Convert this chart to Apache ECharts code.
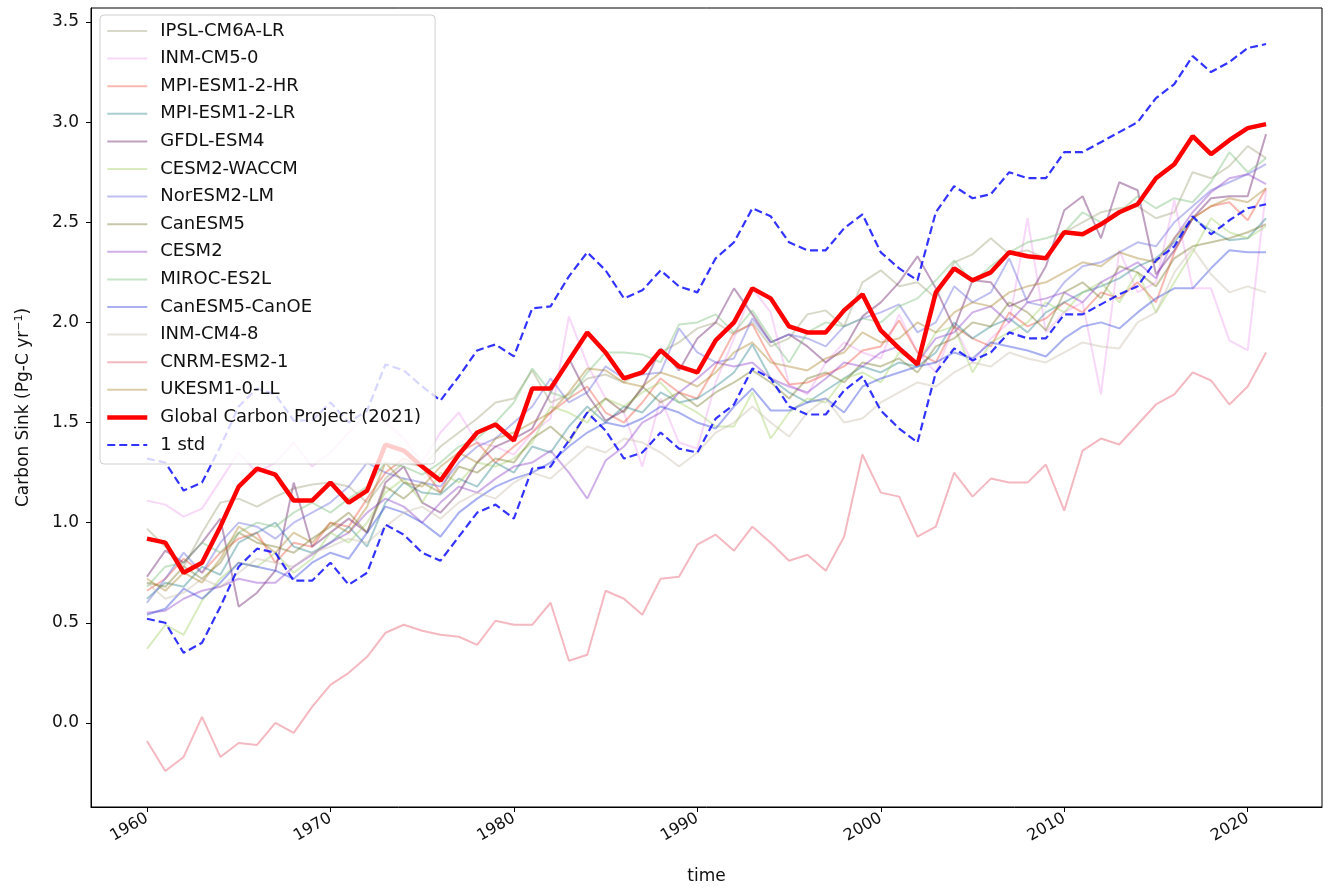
<!DOCTYPE html>
<html>
<head>
<meta charset="utf-8">
<script src="https://cdn.jsdelivr.net/npm/echarts@6/dist/echarts.min.js"></script>
<style>
  html, body { margin: 0; padding: 0; background: #fff; }
  #chart { width: 1335px; height: 890px; }
</style>
</head>
<body>
<div id="chart"></div>
<script>
// years 1960..2021
var years = [];
for (var yr = 1960; yr <= 2021; yr++) years.push(yr);

var xTicks = [1960, 1970, 1980, 1990, 2000, 2010, 2020];
var yTicks = [0, 0.5, 1.0, 1.5, 2.0, 2.5, 3.0, 3.5];

var ipsl = [0.97,0.88,0.78,0.95,1.10,1.12,1.08,1.13,1.17,1.19,
  1.20,1.18,1.10,1.22,1.30,1.28,1.38,1.45,1.52,1.60,
  1.62,1.76,1.60,1.64,1.72,1.74,1.70,1.76,1.85,1.90,
  1.97,2.00,1.94,2.00,1.88,1.92,2.04,2.06,1.98,2.20,
  2.26,2.18,2.20,2.12,2.30,2.34,2.42,2.34,2.36,2.32,
  2.45,2.50,2.55,2.57,2.58,2.52,2.55,2.75,2.72,2.78,
  2.88,2.82];
var inmCm50 = [1.11,1.09,1.03,1.07,1.21,1.35,1.25,1.30,1.40,1.28,
  1.35,1.45,1.55,1.50,1.42,1.30,1.45,1.55,1.40,1.38,
  1.34,1.45,1.52,2.03,1.79,1.62,1.55,1.28,1.62,1.40,
  1.37,1.70,1.92,2.17,2.05,1.69,1.64,1.80,1.90,1.85,
  1.82,2.04,1.85,1.75,1.98,1.80,1.92,2.00,2.52,1.95,
  2.05,2.10,1.64,2.36,2.15,2.20,2.61,2.17,2.17,1.91,
  1.86,2.66];
var mpiHr = [0.66,0.72,0.82,0.75,0.85,0.92,0.95,0.80,0.90,0.88,
  1.00,0.98,1.12,1.25,1.32,1.28,1.15,1.35,1.40,1.30,
  1.38,1.45,1.55,1.62,1.68,1.55,1.50,1.60,1.72,1.65,
  1.62,1.78,1.95,1.99,1.82,1.69,1.70,1.74,1.78,1.86,
  1.88,2.01,1.85,1.80,1.98,1.92,1.88,2.05,1.98,2.02,
  2.10,2.05,2.15,2.12,2.20,2.10,2.35,2.52,2.58,2.60,
  2.51,2.67];
var mpiLr = [0.62,0.70,0.68,0.78,0.74,0.90,0.95,1.00,0.88,0.85,
  0.90,0.98,0.88,1.10,1.20,1.15,1.14,1.22,1.18,1.30,
  1.25,1.38,1.35,1.48,1.58,1.50,1.58,1.55,1.65,1.60,
  1.62,1.68,1.75,1.89,1.72,1.65,1.60,1.66,1.72,1.78,
  1.75,1.80,1.78,1.85,2.00,1.92,1.98,2.02,1.95,2.05,
  2.10,2.15,2.18,2.22,2.28,2.32,2.40,2.52,2.46,2.41,
  2.42,2.52];
var gfdl = [0.73,0.86,0.80,0.90,1.02,0.58,0.65,0.76,1.20,0.88,
  0.95,1.02,0.95,1.20,1.28,1.10,1.05,1.15,1.30,1.38,
  1.42,1.47,1.65,1.82,1.64,1.51,1.56,1.67,1.87,1.76,
  1.92,2.00,2.17,2.04,1.90,1.94,1.88,1.80,1.87,2.03,
  2.10,2.20,2.33,2.17,1.97,2.21,2.20,2.08,2.12,2.28,
  2.56,2.63,2.42,2.70,2.66,2.24,2.36,2.52,2.62,2.63,
  2.63,2.94];
var cesmWaccm = [0.37,0.49,0.44,0.61,0.72,0.80,0.78,0.85,0.75,0.82,
  0.95,0.90,1.00,1.15,1.22,1.10,1.25,1.20,1.30,1.28,
  1.32,1.40,1.58,1.55,1.50,1.62,1.58,1.65,1.70,1.60,
  1.55,1.48,1.48,1.65,1.42,1.55,1.62,1.60,1.72,1.75,
  1.70,1.85,1.80,1.95,1.98,1.75,1.90,1.95,2.00,2.10,
  2.05,2.15,2.20,2.10,2.25,2.05,2.20,2.35,2.52,2.45,
  2.42,2.48];
var norEsm = [0.60,0.72,0.85,0.75,0.90,1.00,0.98,0.92,1.00,1.05,
  1.10,1.18,1.30,1.25,1.22,1.20,1.18,1.30,1.38,1.42,
  1.50,1.58,1.72,1.60,1.65,1.78,1.72,1.74,1.75,1.97,
  1.85,1.80,1.82,2.02,1.90,1.94,1.92,1.88,1.98,2.02,
  2.05,2.09,1.95,2.00,2.18,2.10,2.15,2.32,2.10,2.08,
  2.20,2.28,2.30,2.35,2.40,2.38,2.50,2.58,2.66,2.70,
  2.74,2.79];
var canEsm5 = [0.70,0.68,0.78,0.72,0.80,0.95,0.90,0.88,0.85,0.92,
  0.98,1.05,0.95,1.18,1.12,1.20,1.15,1.28,1.25,1.32,
  1.30,1.42,1.48,1.40,1.55,1.62,1.55,1.68,1.60,1.65,
  1.58,1.65,1.70,1.76,1.70,1.62,1.72,1.75,1.70,1.80,
  1.78,1.82,1.75,1.88,1.92,2.00,1.98,2.10,2.05,1.96,
  2.15,2.20,2.12,2.28,2.25,2.18,2.32,2.38,2.40,2.42,
  2.45,2.49];
var cesm2 = [0.55,0.56,0.62,0.66,0.68,0.72,0.70,0.70,0.78,0.84,
  0.90,0.95,1.05,1.12,1.08,1.00,1.10,1.18,1.15,1.22,
  1.28,1.30,1.36,1.25,1.12,1.31,1.38,1.50,1.55,1.65,
  1.72,1.80,1.78,1.80,1.72,1.68,1.65,1.72,1.80,1.78,
  1.85,1.88,1.80,1.92,1.95,2.05,2.08,2.00,2.10,2.12,
  2.15,2.10,2.20,2.25,2.30,2.22,2.42,2.55,2.65,2.72,
  2.74,2.69];
var miroc = [0.68,0.78,0.80,0.90,0.85,0.95,1.00,0.98,1.05,1.10,
  1.05,1.12,1.18,1.30,1.28,1.24,1.30,1.38,1.42,1.50,
  1.60,1.77,1.65,1.62,1.75,1.85,1.85,1.84,1.80,1.99,
  2.00,2.04,1.95,2.06,1.92,1.80,1.95,2.00,1.98,2.02,
  2.00,2.08,2.12,2.21,2.31,2.20,2.28,2.35,2.40,2.42,
  2.45,2.55,2.50,2.55,2.63,2.57,2.62,2.60,2.70,2.85,
  2.75,2.82];
var canOe = [0.54,0.57,0.67,0.62,0.70,0.80,0.78,0.76,0.72,0.80,
  0.85,0.82,0.95,1.08,1.05,1.00,0.93,1.05,1.12,1.18,
  1.22,1.25,1.30,1.38,1.45,1.50,1.48,1.52,1.58,1.55,
  1.50,1.47,1.58,1.67,1.56,1.56,1.60,1.62,1.55,1.68,
  1.72,1.75,1.78,1.80,1.85,1.82,1.90,1.88,1.86,1.83,
  1.92,1.98,2.00,1.97,2.05,2.12,2.17,2.17,2.27,2.36,
  2.35,2.35];
var inmCm48 = [0.70,0.62,0.65,0.72,0.68,0.75,0.82,0.80,0.78,0.85,
  0.88,0.92,0.90,0.98,1.05,1.08,1.02,1.10,1.15,1.12,
  1.20,1.25,1.22,1.30,1.38,1.35,1.42,1.40,1.35,1.28,
  1.35,1.45,1.50,1.58,1.50,1.43,1.55,1.62,1.50,1.52,
  1.60,1.65,1.70,1.68,1.75,1.80,1.78,1.85,1.82,1.80,
  1.85,1.90,1.88,1.87,2.00,2.05,2.25,2.37,2.24,2.15,
  2.18,2.15];
var cnrm = [-0.09,-0.24,-0.17,0.03,-0.17,-0.10,-0.11,0.00,-0.05,0.08,
  0.19,0.25,0.33,0.45,0.49,0.46,0.44,0.43,0.39,0.51,
  0.49,0.49,0.60,0.31,0.34,0.66,0.62,0.54,0.72,0.73,
  0.89,0.94,0.86,0.98,0.90,0.81,0.84,0.76,0.93,1.34,
  1.15,1.13,0.93,0.98,1.25,1.13,1.22,1.20,1.20,1.29,
  1.06,1.36,1.42,1.39,1.49,1.59,1.64,1.75,1.71,1.59,
  1.68,1.85];
var ukesm = [0.72,0.66,0.75,0.70,0.82,0.98,0.92,0.85,0.95,0.90,
  1.00,0.95,1.08,1.30,1.20,1.18,1.28,1.35,1.30,1.42,
  1.45,1.50,1.55,1.65,1.77,1.76,1.70,1.68,1.75,1.72,
  1.68,1.75,1.85,1.90,1.80,1.78,1.76,1.82,1.85,1.95,
  1.90,1.92,2.00,1.95,2.05,2.10,2.08,2.15,2.18,2.20,
  2.25,2.30,2.28,2.35,2.32,2.30,2.42,2.52,2.58,2.62,
  2.60,2.67];

var gcp = [0.92,0.90,0.75,0.80,0.98,1.18,1.27,1.24,1.11,1.11,
  1.20,1.10,1.16,1.39,1.36,1.28,1.21,1.34,1.45,1.49,
  1.41,1.67,1.67,1.81,1.95,1.85,1.72,1.75,1.86,1.78,
  1.75,1.91,2.00,2.17,2.12,1.98,1.95,1.95,2.06,2.14,
  1.96,1.87,1.79,2.15,2.27,2.21,2.25,2.35,2.33,2.32,
  2.45,2.44,2.49,2.55,2.59,2.72,2.79,2.93,2.84,2.91,
  2.97,2.99];
var stdUpper = [1.32,1.30,1.16,1.20,1.38,1.58,1.67,1.64,1.51,1.51,
  1.60,1.50,1.56,1.79,1.76,1.68,1.61,1.73,1.86,1.89,
  1.83,2.07,2.08,2.23,2.35,2.26,2.12,2.16,2.26,2.18,
  2.15,2.32,2.40,2.57,2.53,2.40,2.36,2.36,2.47,2.54,
  2.35,2.27,2.21,2.55,2.68,2.62,2.64,2.75,2.72,2.72,
  2.85,2.85,2.90,2.95,3.00,3.12,3.19,3.33,3.25,3.30,
  3.37,3.39];
var stdLower = [0.52,0.50,0.35,0.40,0.58,0.78,0.87,0.85,0.71,0.71,
  0.80,0.69,0.75,0.99,0.94,0.85,0.81,0.93,1.05,1.09,
  1.02,1.27,1.28,1.41,1.55,1.46,1.32,1.35,1.45,1.37,
  1.35,1.52,1.59,1.77,1.72,1.58,1.54,1.54,1.66,1.73,
  1.56,1.47,1.40,1.75,1.87,1.81,1.85,1.95,1.92,1.92,
  2.04,2.04,2.09,2.14,2.18,2.31,2.38,2.53,2.44,2.51,
  2.57,2.59];

var models = [
  ['IPSL-CM6A-LR', ipsl, '#9d9d75'],
  ['INM-CM5-0', inmCm50, '#ed9ded'],
  ['MPI-ESM1-2-HR', mpiHr, '#ed4d39'],
  ['MPI-ESM1-2-LR', mpiLr, '#257f89'],
  ['GFDL-ESM4', gfdl, '#611161'],
  ['CESM2-WACCM', cesmWaccm, '#9dcf61'],
  ['NorESM2-LM', norEsm, '#6161d9'],
  ['CanESM5', canEsm5, '#757525'],
  ['CESM2', cesm2, '#8939c5'],
  ['MIROC-ES2L', miroc, '#75bb75'],
  ['CanESM5-CanOE', canOe, '#2539d9'],
  ['INM-CM4-8', inmCm48, '#c5bba7'],
  ['CNRM-ESM2-1', cnrm, '#e34d61'],
  ['UKESM1-0-LL', ukesm, '#a77f25']
];

function pairs(vals) {
  return vals.map(function (v, i) { return [years[i], v]; });
}

var series = models.map(function (m) {
  return {
    name: m[0], type: 'line', data: pairs(m[1]), symbol: 'none',
    lineStyle: { color: m[2], width: 2, opacity: 0.4 },
    itemStyle: { color: m[2] },
    z: 2
  };
});
series.push({
  name: 'Global Carbon Project (2021)', type: 'line', data: pairs(gcp), symbol: 'none',
  lineStyle: { color: '#ff0000', width: 4.5 }, itemStyle: { color: '#ff0000' }, z: 3
});
series.push({
  name: '1 std', type: 'line', data: pairs(stdUpper), symbol: 'none',
  lineStyle: { color: 'rgba(0,0,255,0.8)', width: 2.2, type: [8, 4] },
  itemStyle: { color: 'rgba(0,0,255,0.8)' }, z: 3
});
series.push({
  name: '1 std', type: 'line', data: pairs(stdLower), symbol: 'none',
  lineStyle: { color: 'rgba(0,0,255,0.8)', width: 2.2, type: [8, 4] },
  itemStyle: { color: 'rgba(0,0,255,0.8)' }, z: 3
});

var legendNames = models.map(function (m) { return m[0]; });
legendNames.push('Global Carbon Project (2021)', '1 std');

var chart = echarts.init(document.getElementById('chart'), null, { renderer: 'canvas' });
chart.setOption({
  animation: false,
  backgroundColor: '#fff',
  textStyle: { fontFamily: 'DejaVu Sans' },
  grid: { left: 91, right: 13, top: 8, bottom: 82, show: true, borderColor: '#000', borderWidth: 1 },
  legend: {
    data: legendNames,
    orient: 'vertical',
    left: 100, top: 15,
    itemWidth: 40, itemHeight: 18, itemGap: 9.6,
    padding: [7, 14, 10, 5],
    backgroundColor: 'rgba(255,255,255,0.8)',
    borderColor: '#d0d0d0', borderWidth: 1, borderRadius: 4,
    itemStyle: { opacity: 0 },
    lineStyle: { width: 'inherit' },
    textStyle: { fontSize: 18, lineHeight: 18, color: '#111', padding: [0, 0, 0, 8] },
    selectedMode: false
  },
  xAxis: {
    type: 'value', min: 1956.95, max: 2024.05,
    name: 'time', nameLocation: 'middle', nameGap: 61,
    nameTextStyle: { fontSize: 17, color: '#111' },
    axisLine: { onZero: false, lineStyle: { color: '#000', width: 1 } },
    axisTick: { show: true, length: 5, lineStyle: { color: '#000' }, customValues: xTicks },
    axisLabel: { customValues: xTicks, rotate: 30, fontSize: 16, color: '#111', margin: 10,
      formatter: function (v) { return String(v); } },
    splitLine: { show: false }
  },
  yAxis: {
    type: 'value', min: -0.42, max: 3.57,
    name: 'Carbon Sink (Pg-C yr{sup|\u22121})', nameLocation: 'middle', nameGap: 58,
    nameTextStyle: { fontSize: 17, color: '#111', rich: { sup: { fontSize: 11, verticalAlign: 'top', padding: [0, 0, 8, 0] } } },
    axisLine: { show: true, lineStyle: { color: '#000', width: 1 } },
    axisTick: { show: true, length: 5, lineStyle: { color: '#000' }, customValues: yTicks },
    axisLabel: { customValues: yTicks, fontSize: 17, color: '#111', margin: 12,
      formatter: function (v) { return v.toFixed(1); } },
    splitLine: { show: false }
  },
  series: series
});
</script>
</body>
</html>
